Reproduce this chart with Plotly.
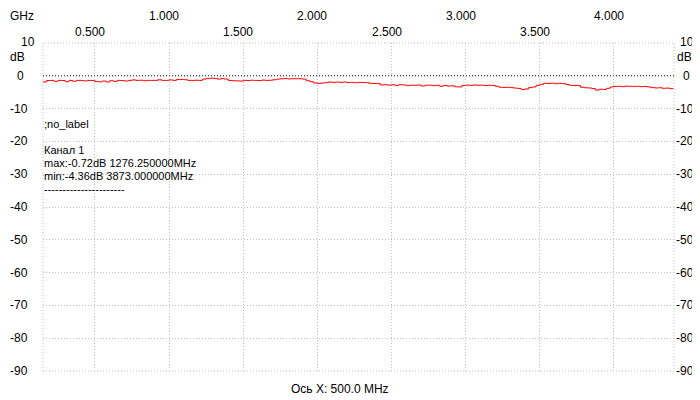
import plotly.graph_objects as go

# ---- data ----
freq_start_ghz = 0.150
freq_step_ghz = 0.025
db_values = [
    -1.85, -1.45, -1.40, -1.70, -1.40, -1.45, -1.80, -1.40, -1.65, -1.40,
    -1.40, -1.55, -1.40, -1.45, -1.75, -1.85, -1.60, -1.90, -1.50, -1.70,
    -1.40, -1.45, -1.60, -1.40, -1.25, -1.40, -1.35, -1.50, -1.40, -1.40,
    -1.40, -1.20, -1.40, -1.40, -1.25, -1.40, -1.10, -1.10, -1.20, -1.40,
    -1.40, -1.35, -1.40, -1.00, -0.85, -0.72, -0.80, -1.00, -0.85, -1.00,
    -1.45, -1.50, -1.55, -1.60, -1.40, -1.45, -1.35, -1.40, -1.45, -1.30,
    -1.40, -1.35, -1.20, -1.00, -0.90, -0.85, -0.95, -0.90, -0.88, -0.90,
    -1.00, -1.50, -1.80, -2.20, -2.30, -2.20, -2.10, -1.90, -2.00, -1.90,
    -2.00, -1.90, -2.05, -2.00, -2.10, -2.00, -2.05, -2.10, -2.30, -2.35,
    -2.40, -2.80, -2.70, -2.85, -2.75, -2.90, -2.70, -2.80, -3.00, -2.85,
    -2.90, -2.80, -3.10, -2.90, -2.85, -3.00, -2.90, -3.20, -2.95, -3.10,
    -3.05, -3.35, -3.40, -2.95, -2.85, -2.90, -2.80, -2.90, -2.85, -2.95,
    -2.90, -2.95, -3.20, -3.50, -3.55, -3.50, -3.60, -3.75, -3.85, -4.20,
    -4.00, -3.60, -3.40, -2.90, -2.60, -2.30, -2.35, -2.25, -2.40, -2.30,
    -2.40, -2.65, -2.90, -2.95, -3.00, -3.50, -3.65, -3.70, -3.90, -4.36,
    -4.10, -4.15, -3.80, -3.40, -3.25, -3.20, -3.30, -3.15, -3.20, -3.25,
    -3.20, -3.30, -3.25, -3.40, -3.60, -3.70, -3.65, -3.80, -3.75, -3.90,
    -3.85,
]
freq_ghz = [round(freq_start_ghz + freq_step_ghz * i, 3) for i in range(len(db_values))]

x_range = [0.150, 4.405]
y_range = [-90, 10]
x_grid = [0.5, 1.0, 1.5, 2.0, 2.5, 3.0, 3.5, 4.0]
x_labels_row1 = [(1.0, "1.000"), (2.0, "2.000"), (3.0, "3.000"), (4.0, "4.000")]
x_labels_row2 = [(0.5, "0.500"), (1.5, "1.500"), (2.5, "2.500"), (3.5, "3.500")]
y_ticks = [10, 0, -10, -20, -30, -40, -50, -60, -70, -80, -90]
y_grid = [-10, -20, -30, -40, -50, -60, -70, -80]

info_lines = [";no_label", "", "Канал 1", "max:-0.72dB 1276.250000MHz",
              "min:-4.36dB 3873.000000MHz", "----------------------"]
x_axis_caption = "Ось X: 500.0 MHz"

FONT = "Liberation Sans, Arial, sans-serif"
GRID = "#c0c0c0"
DOT = "1px,2px"

fig = go.Figure()
fig.add_trace(go.Scatter(x=freq_ghz, y=db_values, mode="lines",
                         line=dict(color="#ff0000", width=1, shape="hv"),
                         hoverinfo="skip", showlegend=False))

fig.update_layout(
    width=700, height=400,
    margin=dict(l=35, r=34, t=35, b=37),
    paper_bgcolor="white", plot_bgcolor="white",
    font=dict(family=FONT, size=12, color="black"),
    showlegend=False,
    xaxis=dict(range=x_range, tickvals=x_grid, showticklabels=False, ticks="",
               showgrid=True, gridcolor=GRID, griddash=DOT, gridwidth=1,
               zeroline=False, showline=False, fixedrange=True),
    yaxis=dict(range=y_range, tickvals=y_grid, showticklabels=False, ticks="",
               showgrid=True, gridcolor=GRID, griddash=DOT, gridwidth=1,
               zeroline=False, showline=False, fixedrange=True),
)

# border and 0 dB line
fig.add_shape(type="rect", xref="paper", yref="paper", x0=0, x1=1, y0=0, y1=1,
              line=dict(color=GRID, width=1, dash=DOT), layer="below")
fig.add_shape(type="line", xref="paper", yref="y", x0=0, x1=1, y0=0, y1=0,
              line=dict(color="black", width=1, dash=DOT), layer="below")

ann = []
def add_text(text, x, y, xref, yref, xanchor="left", yanchor="middle",
             xshift=0, yshift=0, size=12):
    ann.append(dict(text=text, x=x, y=y, xref=xref, yref=yref,
                    xanchor=xanchor, yanchor=yanchor, xshift=xshift, yshift=yshift,
                    showarrow=False, borderpad=0, borderwidth=0,
                    font=dict(family=FONT, size=size, color="black")))

# top axis labels
add_text("GHz", 0, 1, "paper", "paper", xshift=2 - 35, yshift=27)
for xv, t in x_labels_row1:
    add_text(t, xv, 1, "x", "paper", xanchor="center", xshift=-5, yshift=27)
for xv, t in x_labels_row2:
    add_text(t, xv, 1, "x", "paper", xanchor="center", xshift=-5, yshift=11.5)

# y labels left and right
for yv in y_ticks:
    t = str(yv)
    ys = 0
    if yv == 10:
        lx, rx = 13, 672
        ys = 1.5
    elif yv == 0:
        lx, rx = 9, 675
    else:
        lx, rx = 2, 668
    add_text(t, 0, yv, "paper", "y", xshift=lx - 35, yshift=ys)
    add_text(t, 0, yv, "paper", "y", xshift=rx - 35, yshift=ys)
add_text("dB", 0, 1, "paper", "paper", xshift=2 - 35, yshift=-13.5)
add_text("dB", 0, 1, "paper", "paper", xshift=669 - 35, yshift=-13.5)

# info block
info_y = [116, 129, 142, 155, 168, 181]
for line, py in zip(info_lines, info_y):
    if line:
        add_text(line, 0, 1, "paper", "paper", xshift=1, yshift=35 - py, size=11)

# bottom caption
add_text(x_axis_caption, 0, 0, "paper", "paper", xanchor="center",
         xshift=332 - 35, yshift=-18)

fig.update_layout(annotations=ann)
fig.write_html("out.html")
